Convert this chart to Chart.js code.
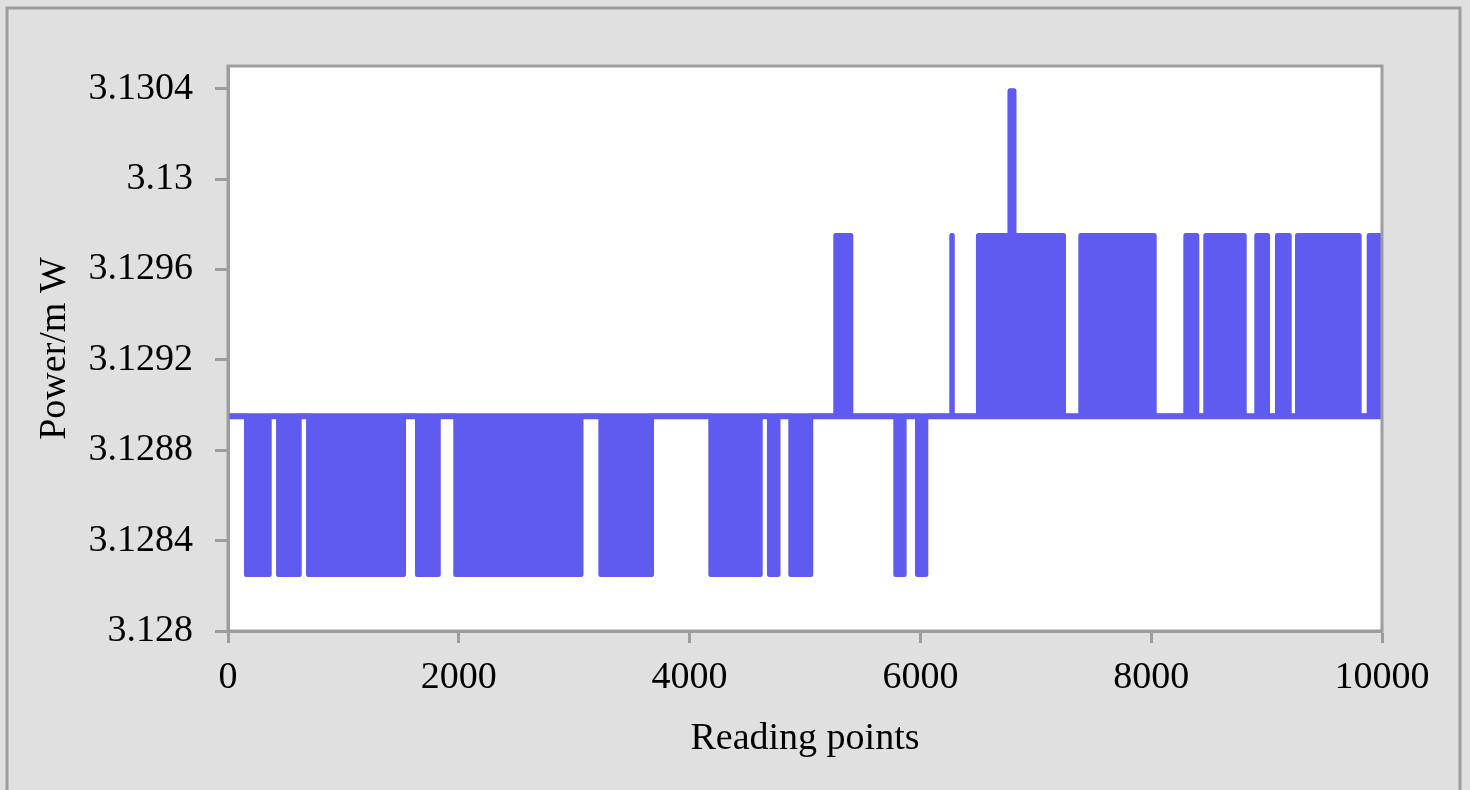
<!DOCTYPE html>
<html>
<head>
<meta charset="utf-8">
<script src="https://cdn.jsdelivr.net/npm/chart.js@4.4.1/dist/chart.umd.min.js"></script>
<style>
  html, body { margin: 0; padding: 0; background: #e0e0e0; }
  #wrap { width: 1470px; height: 790px; position: relative; }
</style>
</head>
<body>
<div id="wrap"><canvas id="powerChart"></canvas></div>
<script>
// Power levels seen in the trace (mW)
const lowLevel = 3.12825;
const baseLevel = 3.12895;
const highLevel = 3.12975;
const peakLevel = 3.13039;

// Runs below the base level (reading points)
const lowStart = [160, 438, 698, 1642, 1974, 3231, 4184, 4692, 4877, 5787, 5975];
const lowEnd   = [357, 617, 1521, 1822, 3059, 3670, 4612, 4766, 5050, 5859, 6047];

// Runs above the base level
const highStart = [5267, 6272, 6503, 7390, 8300, 8473, 8915, 9094, 9268, 9889];
const highEnd   = [5397, 6276, 7240, 8026, 8395, 8806, 9008, 9196, 9802, 10000];

// Single spike up to the top level
const peakStart = 6776;
const peakEnd = 6811;

const xTicks = [0, 2000, 4000, 6000, 8000, 10000];
const yTicks = [3.128, 3.1284, 3.1288, 3.1292, 3.1296, 3.13, 3.1304];
const yTickLabels = ['3.128', '3.1284', '3.1288', '3.1292', '3.1296', '3.13', '3.1304'];

const lineColor = '#5f5af0';
const frameColor = '#9d9d9d';
const font = { family: '"Liberation Serif", "Times New Roman", serif', size: 38 };

// Build the trace from the runs
const runs = [];
lowStart.forEach((s, i) => runs.push({ s, e: lowEnd[i], y: lowLevel }));
highStart.forEach((s, i) => runs.push({ s, e: highEnd[i], y: highLevel }));
runs.sort((a, b) => a.s - b.s);

const points = [{ x: 0, y: baseLevel }];
runs.forEach(r => {
    points.push({ x: r.s, y: baseLevel }, { x: r.s, y: r.y });
    if (r.s < peakStart && r.e > peakEnd) {
        points.push(
            { x: peakStart, y: r.y }, { x: peakStart, y: peakLevel },
            { x: peakEnd, y: peakLevel }, { x: peakEnd, y: r.y }
        );
    }
    points.push({ x: r.e, y: r.y }, { x: r.e, y: baseLevel });
});
if (points[points.length - 1].x < 10000) points.push({ x: 10000, y: baseLevel });

// the trace keeps returning to the base level, so it reads as one solid band
const basePoints = [{ x: 0, y: baseLevel }, { x: 10000, y: baseLevel }];

// Gray page, outer frame, white plot area and its border
const framePlugin = {
    id: 'framePlugin',
    beforeDraw(chart) {
        const { ctx, chartArea: a } = chart;
        ctx.save();
        ctx.fillStyle = '#e0e0e0';
        ctx.fillRect(0, 0, chart.width, chart.height);
        ctx.strokeStyle = frameColor;
        ctx.lineWidth = 3;
        ctx.beginPath();
        ctx.moveTo(7, chart.height + 5);
        ctx.lineTo(7, 8);
        ctx.lineTo(1460, 8);
        ctx.lineTo(1460, chart.height + 5);
        ctx.stroke();
        ctx.fillStyle = '#ffffff';
        ctx.fillRect(a.left, a.top, a.right - a.left, a.bottom - a.top);
        ctx.restore();
    },
    afterDatasetsDraw(chart) {
        const { ctx, chartArea: a } = chart;
        ctx.save();
        ctx.strokeStyle = frameColor;
        ctx.lineWidth = 3;
        ctx.strokeRect(a.left, a.top, a.right - a.left, a.bottom - a.top);
        ctx.restore();
    }
};

new Chart(document.getElementById('powerChart'), {
    type: 'line',
    data: {
        datasets: [{
            data: points,
            borderColor: lineColor,
            backgroundColor: lineColor,
            borderWidth: 5,
            borderJoinStyle: 'round',
            borderCapStyle: 'round',
            pointRadius: 0,
            tension: 0,
            fill: { value: baseLevel }
        }, {
            data: basePoints,
            borderColor: lineColor,
            borderWidth: 6,
            pointRadius: 0,
            fill: false
        }]
    },
    options: {
        responsive: true,
        maintainAspectRatio: false,
        animation: false,
        layout: { padding: { left: 0, top: 66, right: 88, bottom: 0 } },
        plugins: { legend: { display: false }, tooltip: { enabled: false } },
        scales: {
            x: {
                type: 'linear',
                min: 0,
                max: 10000,
                afterFit(scale) { scale.height = 159; },
                afterBuildTicks(scale) { scale.ticks = xTicks.map(v => ({ value: v })); },
                ticks: {
                    autoSkip: false,
                    maxRotation: 0,
                    padding: 12,
                    color: '#000',
                    font,
                    callback: v => String(v)
                },
                grid: { drawOnChartArea: false, drawTicks: true, tickLength: 12, tickWidth: 3, tickColor: frameColor },
                border: { display: true, color: frameColor, width: 3 },
                title: { display: true, text: 'Reading points', color: '#000', font, padding: { top: 0, bottom: 28 } }
            },
            y: {
                type: 'linear',
                min: 3.128,
                max: 3.1305,
                afterFit(scale) { scale.width = 228; },
                afterBuildTicks(scale) { scale.ticks = yTicks.map(v => ({ value: v })); },
                ticks: {
                    autoSkip: false,
                    padding: 22,
                    color: '#000',
                    font,
                    callback: (v, i) => yTickLabels[i]
                },
                grid: { drawOnChartArea: false, drawTicks: true, tickLength: 13, tickWidth: 3, tickColor: frameColor },
                border: { display: true, color: frameColor, width: 3 },
                title: { display: true, text: 'Power/m W', color: '#000', font, padding: { top: 32, bottom: 0 } }
            }
        }
    },
    plugins: [framePlugin]
});
</script>
</body>
</html>
